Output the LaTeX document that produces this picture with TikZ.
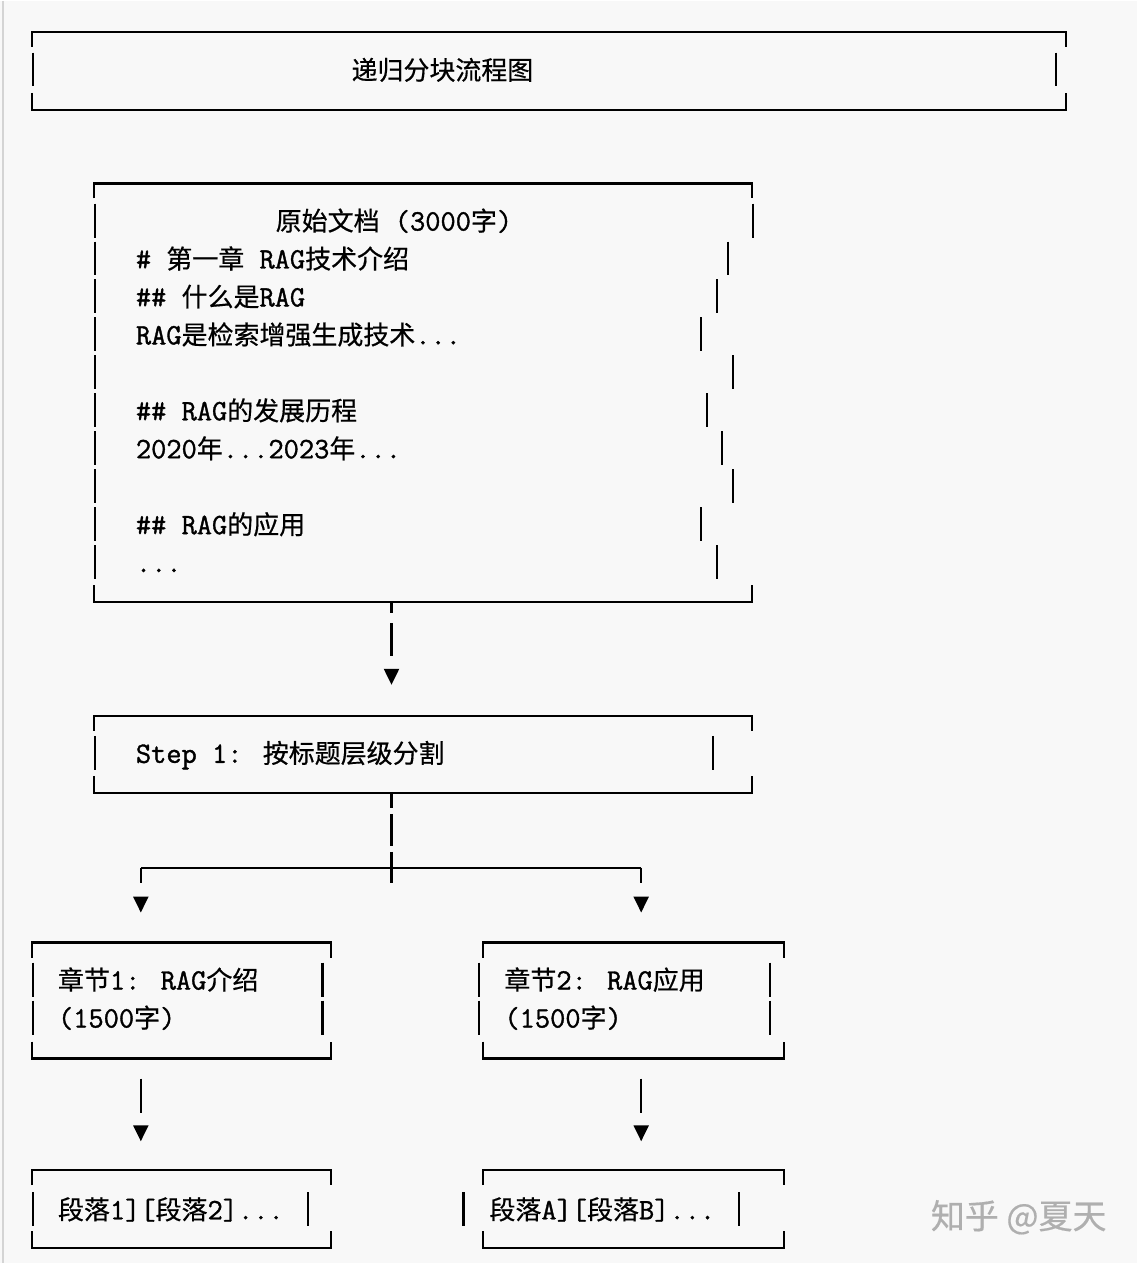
\documentclass[tikz,border=0pt]{standalone}
\usepackage{fontspec}
\usepackage{xcolor}
\newfontfamily\cjk[FakeBold=0.5]{Noto Sans CJK SC}
\newfontfamily\mono[FakeBold=1.2]{Latin Modern Mono}
\definecolor{paper}{RGB}{248,248,248}
\definecolor{rim}{RGB}{212,212,212}
\definecolor{mark}{RGB}{175,175,175}
\usetikzlibrary{positioning}
\usetikzlibrary{calc}
\usetikzlibrary{fit}
\usetikzlibrary{arrows.meta}
\newcommand{\zh}[1]{{\fontsize{13}{15}\cjk #1}}
% corners and top/bottom edges of an ascii box
\newcommand{\rimbox}[1]{%
  \draw ([yshift=-7.5pt]#1.north west) -- (#1.north west) -- (#1.north east) -- ([yshift=-7.5pt]#1.north east);
  \draw ([yshift=8.5pt]#1.south west) -- (#1.south west) -- (#1.south east) -- ([yshift=8.5pt]#1.south east);}

\begin{document}
\begin{tikzpicture}[x=0.5pt, y=-0.5pt, line width=1.1pt,
  every node/.style={inner sep=0pt},
  boxarea/.style={fit={#1}, inner sep=0pt},
  txt/.style={anchor=base west, font=\fontsize{14.8}{18}\mono},
  downtip/.style={-{Triangle[width=7.5pt,length=8pt]}}]
	% page
	\fill[paper] (0,0) rectangle (1138,1264);
	\draw[rim, line width=0.8pt] (3,0) -- (3,1264);
	\useasboundingbox (0,0) rectangle (1138,1264);

	% title
	\node[boxarea={(33,32) (1066,108)}] (head) {};
	\rimbox{head}
	\draw (33,52) -- (33,85) (1057,52) -- (1057,85);
	\node[txt, anchor=base] (headtext) at (443,79) {\zh{递归分块流程图}};

	% source document
	\node[boxarea={(95,184) (752,601)}] (doc) {};
	\rimbox{doc}
	\foreach \y/\xr in {220/754, 258/729, 296/718, 334/702, 372/734, 410/708, 448/723, 486/734, 524/702, 562/718}
		\draw (95,\y-17) -- (95,\y+17) (\xr,\y-17) -- (\xr,\y+17);
	\node[txt] (docname) at (275,230) {\zh{原始文档} (3000\zh{字})};
	\node[txt] (docl1) at (135,268) {\# \zh{第一章} RAG\zh{技术介绍}};
	\node[txt] (docl2) at (135,306) {\#\# \zh{什么是}RAG};
	\node[txt] (docl3) at (135,344) {RAG\zh{是检索增强生成技术}...};
	\node[txt] (docl5) at (135,420) {\#\# RAG\zh{的发展历程}};
	\node[txt] (docl6) at (135,458) {2020\zh{年}...2023\zh{年}...};
	\node[txt] (docl8) at (135,534) {\#\# RAG\zh{的应用}};
	\node[txt] (docl9) at (135,572) {...};

	% step 1
	\node[boxarea={(95,717) (752,792)}] (step) {};
	\rimbox{step}
	\draw (95,736) -- (95,770) (714,736) -- (714,770);
	\node[txt] (steptext) at (135,763) {Step 1: \zh{按标题层级分割}};

	% chapters
	\node[boxarea={(33,944) (330,1058)}] (ch1) {};
	\rimbox{ch1}
	\foreach \y in {980,1018}
		\draw (33,\y-17) -- (33,\y+17) (323,\y-17) -- (323,\y+17);
	\node[txt] (ch1a) at (57,990) {\zh{章节}1: RAG\zh{介绍}};
	\node[txt] (ch1b) at (57,1028) {(1500\zh{字})};

	\node[boxarea={(485,944) (784,1058)}] (ch2) {};
	\rimbox{ch2}
	\foreach \y in {980,1018}
		\draw (480,\y-17) -- (480,\y+17) (771,\y-17) -- (771,\y+17);
	\node[txt] (ch2a) at (504,990) {\zh{章节}2: RAG\zh{应用}};
	\node[txt] (ch2b) at (504,1028) {(1500\zh{字})};

	% paragraphs
	\node[boxarea={(33,1172) (330,1248)}] (par1) {};
	\rimbox{par1}
	\draw (33,1193) -- (33,1227) (308,1193) -- (308,1227);
	\node[txt] (par1text) at (57,1220) {\zh{段落}1][\zh{段落}2]...};

	\node[boxarea={(485,1172) (784,1248)}] (par2) {};
	\rimbox{par2}
	\draw (464,1193) -- (464,1227) (740,1193) -- (740,1227);
	\node[txt] (par2text) at (489,1220) {\zh{段落}A][\zh{段落}B]...};

	% connectors
	\coordinate (spine) at (392,0);
	\coordinate (fork) at (392,868);
	\coordinate (lhook) at (141,868);
	\coordinate (rhook) at (642,868);
	\draw[downtip, dash pattern=on 5.5pt off 5pt on 16.5pt off 20pt] (spine |- doc.south) -- ($(spine |- step.north)+(0,-31)$);
	\draw[dash pattern=on 7.5pt off 3pt on 16pt off 3pt on 16pt off 20pt] (spine |- step.south) -- ($(fork)+(0,15)$);
	\draw (lhook) -- (rhook);
	\draw[downtip, dash pattern=on 7.5pt off 20pt] (lhook) -- ($(lhook |- ch1.north)+(0,-30)$);
	\draw[downtip, dash pattern=on 7.5pt off 20pt] (rhook) -- ($(rhook |- ch2.north)+(0,-30)$);
	\draw[downtip, dash pattern=on 0pt off 10pt on 17pt off 20pt] (lhook |- ch1.south) -- ($(lhook |- par1.north)+(0,-29)$);
	\draw[downtip, dash pattern=on 0pt off 10pt on 17pt off 20pt] (rhook |- ch2.south) -- ($(rhook |- par2.north)+(0,-29)$);

	% watermark
	\node[text=mark, font=\fontsize{17}{20}\cjk] (brand) at (1020,1218) {知乎 @夏天};
\end{tikzpicture}
\end{document}
